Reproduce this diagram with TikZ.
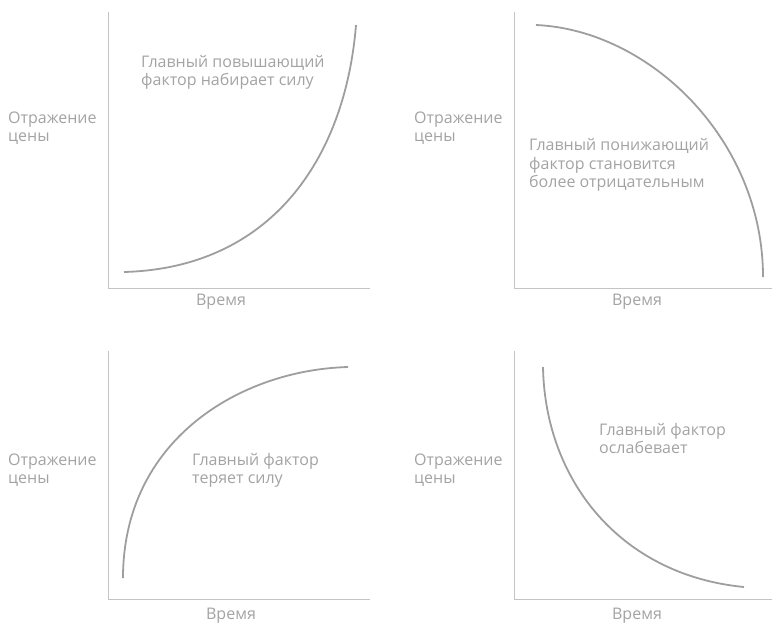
\documentclass[tikz,border=0pt]{standalone}
\usepackage{fontspec}
\setmainfont{Open Sans}
\definecolor{txtgray}{HTML}{A3A3A3}
\definecolor{axisgray}{HTML}{C4C4C4}
\definecolor{curvegray}{HTML}{9E9E9E}
\tikzset{
  axisline/.style={draw=axisgray, line width=1pt},
  curveline/.style={draw=curvegray, line width=1.8pt},
  lbl/.style={font=\fontsize{16}{18.5}\selectfont, text=txtgray, inner sep=0pt, align=left, anchor=base west},
  timelbl/.style={font=\fontsize{16}{18.5}\selectfont, text=txtgray, inner sep=0pt, anchor=base}
}
\begin{document}
\begin{tikzpicture}[x=1pt,y=-1pt]
\useasboundingbox (0,0) rectangle (773,622);
% ---- panel 1 (top left)
\coordinate (o1) at (108,288);
\coordinate (t1) at (108,12);
\coordinate (r1) at (370,288);
\draw[axisline] (t1) -- (o1) -- (r1);
\coordinate (a1) at (124,272);
\coordinate (b1) at (356,25);
\draw[curveline] (a1) .. controls (270,268) and (345,160) .. (b1);
\node[lbl] (y1) at (8,141.5) {Отражение\\цены};
\node[lbl] (m1) at (141,85.5) {Главный повышающий\\фактор набирает силу};
\node[timelbl] (x1) at (221,305) {Время};
% ---- panel 2 (top right)
\coordinate (o2) at (514,288);
\coordinate (t2) at (514,12);
\coordinate (r2) at (772,288);
\draw[axisline] (t2) -- (o2) -- (r2);
\coordinate (a2) at (536,25);
\coordinate (b2) at (763,277);
\draw[curveline] (a2) .. controls (650,30) and (763,140) .. (b2);
\node[lbl] (y2) at (414,141.5) {Отражение\\цены};
\node[lbl] (m2) at (529,187.5) {Главный понижающий\\фактор становится\\более отрицательным};
\node[timelbl] (x2) at (637,305) {Время};
% ---- panel 3 (bottom left)
\coordinate (o3) at (108,599);
\coordinate (t3) at (108,351);
\coordinate (r3) at (370,599);
\draw[axisline] (t3) -- (o3) -- (r3);
\coordinate (a3) at (123,578);
\coordinate (b3) at (348,367);
\draw[curveline] (a3) .. controls (123,440) and (240,370) .. (b3);
\node[lbl] (y3) at (8,483.5) {Отражение\\цены};
\node[lbl] (m3) at (192,483.5) {Главный фактор\\теряет силу};
\node[timelbl] (x3) at (231,619) {Время};
% ---- panel 4 (bottom right)
\coordinate (o4) at (514,599);
\coordinate (t4) at (514,351);
\coordinate (r4) at (772,599);
\draw[axisline] (t4) -- (o4) -- (r4);
\coordinate (a4) at (543,367);
\coordinate (b4) at (744,587);
\draw[curveline] (a4) .. controls (545,480) and (620,575) .. (b4);
\node[lbl] (y4) at (414,483.5) {Отражение\\цены};
\node[lbl] (m4) at (599,453.5) {Главный фактор\\ослабевает};
\node[timelbl] (x4) at (637,619) {Время};
\end{tikzpicture}
\end{document}
